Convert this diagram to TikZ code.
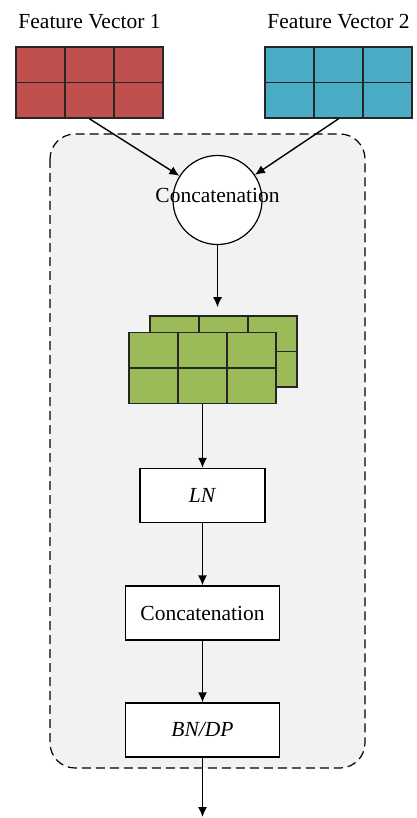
\documentclass[tikz,border=0pt]{standalone}
\usepackage{fontspec}
\setmainfont{Liberation Serif}
\usepackage{tikz}
\usetikzlibrary{arrows.meta,calc,positioning}
\definecolor{fvred}{HTML}{C0504D}
\definecolor{fvblue}{HTML}{4BACC6}
\definecolor{fvgreen}{HTML}{9BBB59}
\definecolor{panelgray}{HTML}{F2F2F2}

\tikzset{
  gridbox/.style={draw=black!85, line width=1.6pt, minimum width=147pt, minimum height=71pt, inner sep=0pt},
  gridline/.style={draw=black!85, line width=1.6pt},
  opbox/.style={draw, fill=white, line width=1.2pt, minimum height=54pt, inner sep=0pt},
  flow/.style={-{Latex[length=10pt,width=9pt]}, line width=1.4pt},
}

% feature grid: name, centre, colour
\newcommand{\featgrid}[3]{%
  \node[gridbox, fill=#3] (#1) at (#2) {};
  \foreach \k in {1,2}
    \draw[gridline] ($(#1.north west)!\k/3!(#1.north east)$) -- ($(#1.south west)!\k/3!(#1.south east)$);
  \draw[gridline] (#1.west) -- (#1.east);
}

\begin{document}
\begin{tikzpicture}[x=1pt, y=-1pt, every node/.style={font=\fontsize{21.5}{25}\selectfont}]
\useasboundingbox (0,0) rectangle (416,818);
%--- dashed panel ---
\draw[dashed, dash pattern=on 9pt off 5pt, line width=1.2pt, fill=panelgray, rounded corners=25pt] (50,134) rectangle (365,768);
%--- input vectors ---
\node (lab1) at (89.5,22) {Feature Vector 1};
\node (lab2) at (338.5,22) {Feature Vector 2};
\featgrid{fv1}{89.5,82.5}{fvred}
\featgrid{fv2}{338.5,82.5}{fvblue}
%--- concatenation circle ---
\node[circle, draw, fill=white, line width=1.2pt, minimum size=89pt, inner sep=0pt] (cat) at (217.5,200) {};
\node (cattxt) at (217.5,195) {Concatenation};
\draw[flow] (fv1.south) -- (cat);
\draw[flow] (fv2.south) -- (cat);
%--- stacked maps ---
\featgrid{mapback}{223.5,351.5}{fvgreen}
\featgrid{mapfront}{202.5,368}{fvgreen}
\coordinate (maptop) at (cat |- mapback.north);
\draw[flow, shorten >=8pt] (cat.south) -- (maptop);
%--- layers ---
\node[opbox, minimum width=125pt] (ln) at (202.5,495.5) {\textit{LN}};
\node[opbox, minimum width=154pt] (cat2) at (202.5,613) {Concatenation};
\node[opbox, minimum width=154pt] (bndp) at (202.5,730) {\textit{BN/DP}};
\coordinate (out) at (202.5,817);
\draw[flow] (mapfront.south) -- (ln.north);
\draw[flow] (ln) -- (cat2);
\draw[flow] (cat2) -- (bndp);
\draw[flow] (bndp) -- (out);
\end{tikzpicture}
\end{document}
